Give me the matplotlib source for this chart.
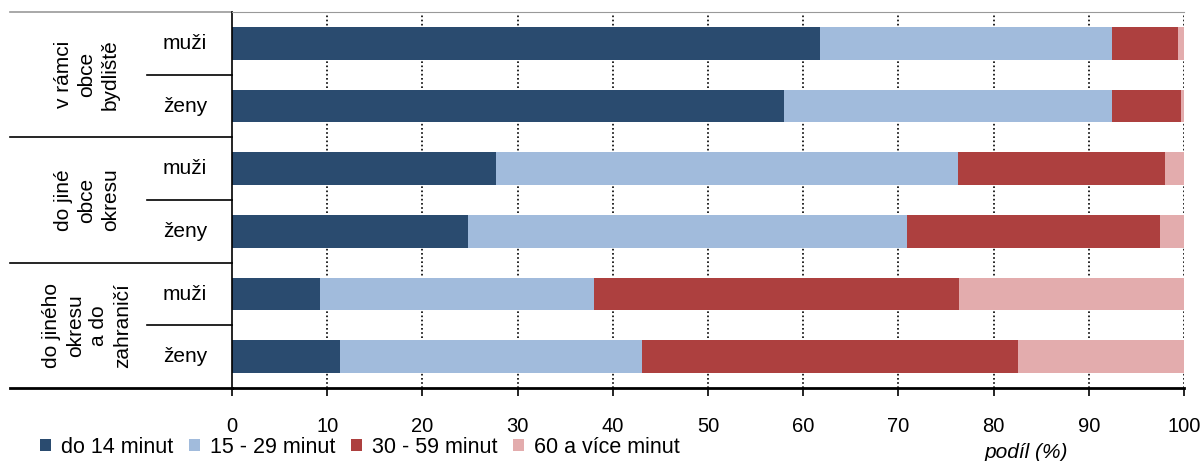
import numpy as np
import matplotlib
matplotlib.use("Agg")
import matplotlib.pyplot as plt
from matplotlib.patches import Patch
from matplotlib.transforms import blended_transform_factory

# -------------------------------------------------------
# Data
# -------------------------------------------------------
groups = ["v rámci\nobce\nbydliště", "do jiné\nobce\nokresu", "do jiného\nokresu\na do\nzahraničí"]
sexes = ["muži", "ženy"]
series = ["do 14 minut", "15 - 29 minut", "30 - 59 minut", "60 a více minut"]

do_14 = [61.8, 58.0, 27.7, 24.8, 9.2, 11.3]
min_15_29 = [30.6, 34.4, 48.6, 46.1, 28.8, 31.8]
min_30_59 = [7.0, 7.3, 21.7, 26.6, 38.4, 39.5]
min_60 = [0.6, 0.3, 2.0, 2.5, 23.6, 17.4]

colours = ["#2A4B6F", "#A1BBDC", "#AD403F", "#E3ACAD"]

plt.rcParams["font.family"] = ["Liberation Sans", "DejaVu Sans"]
plt.rcParams["font.size"] = 15

W, H = 1203, 461
fig = plt.figure(figsize=(W / 100, H / 100), dpi=100)
x0, x1 = 232, 1184
y_top, y_bot = 12, 388
ax = fig.add_axes([x0 / W, 1 - y_bot / H, (x1 - x0) / W, (y_bot - y_top) / H])

rows = np.arange(6)
left = np.zeros(6)
for vals, col, name in zip([do_14, min_15_29, min_30_59, min_60], colours, series):
    ax.barh(rows, vals, left=left, height=0.52, color=col, label=name, zorder=2)
    left += np.array(vals)

ax.set_xlim(0, 100)
ax.set_ylim(5.5, -0.5)
ax.set_xticks(np.arange(0, 101, 10))
ax.set_yticks([])
ax.tick_params(axis="x", direction="out", length=6, width=1.2, pad=15, labelsize=14.5)
for v in range(10, 101, 10):
    ax.axvline(v, color="black", linestyle=(0, (1, 1.5)), linewidth=1.2, zorder=1)

ax.spines["top"].set_color("#999999")
ax.spines["right"].set_visible(False)
ax.spines["bottom"].set_linewidth(2)
ax.spines["left"].set_linewidth(1.2)

# left-hand category table
trans = blended_transform_factory(fig.transFigure, ax.transData)
xl = 10 / W
xa = x0 / W
xs = 147 / W
ax.plot([xl, xa], [-0.5, -0.5], transform=trans, color="#999999", lw=1.2, clip_on=False)
ax.plot([xl, xa], [5.5, 5.5], transform=trans, color="black", lw=2, clip_on=False)
for yy in [1.5, 3.5]:
    ax.plot([xl, xa], [yy, yy], transform=trans, color="black", lw=1.2, clip_on=False)
for yy in [0.5, 2.5, 4.5]:
    ax.plot([xs, xa], [yy, yy], transform=trans, color="black", lw=1.2, clip_on=False)

for i, g in enumerate(groups):
    ax.text(87 / W, 2 * i + 0.5, g, transform=trans, rotation=90, ha="center", va="center",
            fontsize=15, linespacing=1.3)
for r in rows:
    ax.text(185 / W, r, sexes[r % 2], transform=trans, ha="center", va="center", fontsize=15)

# legend and axis label
handles = [Patch(facecolor=c, edgecolor="none") for c in colours]
fig.legend(handles, series, loc="center left", bbox_to_anchor=(40 / W, 1 - 447 / H), ncol=4,
           frameon=False, handlelength=0.53, handleheight=0.53, handletextpad=0.45,
           columnspacing=0.72, fontsize=15.5, borderaxespad=0, borderpad=0)
fig.text(1026 / W, 1 - 452 / H, "podíl (%)", ha="center", va="center", fontsize=15, style="italic")

fig.savefig("out.png", dpi=100)
